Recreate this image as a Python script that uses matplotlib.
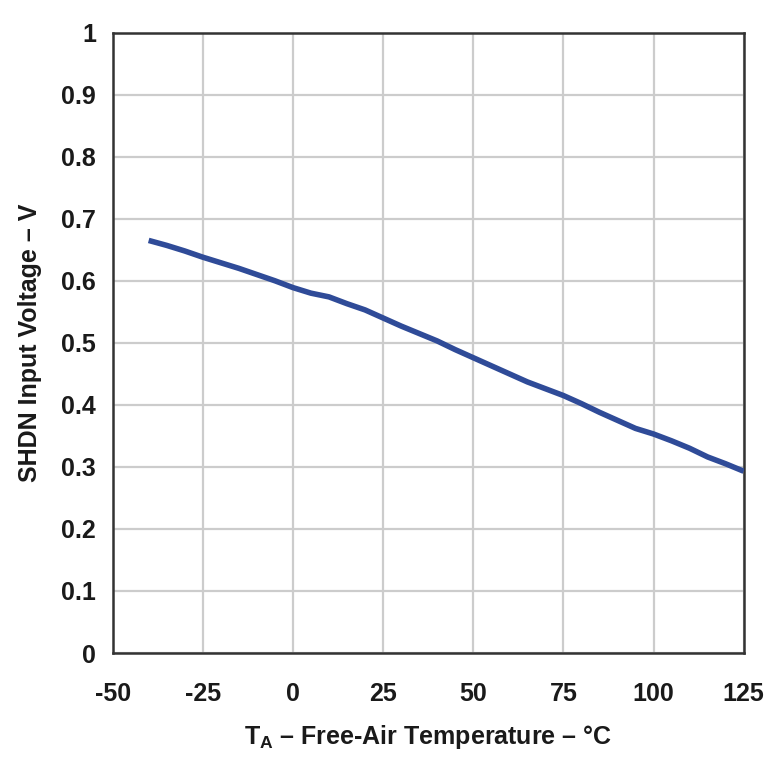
import numpy as np
import matplotlib.pyplot as plt

# SHDN input voltage vs free-air temperature
temp_c = [-40, -35, -30, -25, -20, -15, -10, -5, 0, 5, 10, 15, 20, 25, 30,
          35, 40, 45, 50, 55, 60, 65, 70, 75, 80, 85, 90, 95, 100, 105,
          110, 115, 120, 125]
shdn_v = [0.665, 0.657, 0.648, 0.638, 0.629, 0.620, 0.610, 0.600, 0.589,
          0.580, 0.574, 0.563, 0.553, 0.540, 0.527, 0.515, 0.503, 0.489,
          0.476, 0.463, 0.450, 0.437, 0.426, 0.415, 0.402, 0.388, 0.375,
          0.362, 0.353, 0.342, 0.330, 0.316, 0.305, 0.293]

xticks = [-50, -25, 0, 25, 50, 75, 100, 125]
yticks = [0, 0.1, 0.2, 0.3, 0.4, 0.5, 0.6, 0.7, 0.8, 0.9, 1]
ytick_labels = ['0', '0.1', '0.2', '0.3', '0.4', '0.5', '0.6', '0.7', '0.8', '0.9', '1']

plt.rcParams['font.family'] = ['Liberation Sans', 'DejaVu Sans']
plt.rcParams['font.weight'] = 'bold'
plt.rcParams['axes.unicode_minus'] = False
plt.rcParams['mathtext.fontset'] = 'custom'
plt.rcParams['mathtext.rm'] = 'Liberation Sans:bold'

fig = plt.figure(figsize=(7.82, 7.76), dpi=100)
ax = fig.add_axes([0.144, 0.1585, 0.807, 0.7995])

ax.plot(temp_c, shdn_v, color='#2f4b98', lw=4.0, solid_capstyle='butt', zorder=3)

ax.set_xlim(-50, 125)
ax.set_ylim(0, 1)
ax.set_xticks(xticks)
ax.set_yticks(yticks)
ax.set_yticklabels(ytick_labels)
ax.tick_params(axis='both', length=0, labelsize=18, colors='#1a1a1a')
ax.tick_params(axis='x', pad=21)
ax.tick_params(axis='y', pad=12)
for lbl in ax.get_xticklabels() + ax.get_yticklabels():
    lbl.set_fontweight('bold')

ax.grid(True, color='#cccccc', lw=1.6)
ax.set_axisbelow(True)
for sp in ax.spines.values():
    sp.set_color('#333333')
    sp.set_linewidth(1.8)

ax.set_xlabel(r'T$_\mathrm{A}$ – Free-Air Temperature – °C', fontsize=18,
              fontweight='bold', labelpad=12, color='#1a1a1a')
ax.set_ylabel('SHDN Input Voltage – V', fontsize=18, fontweight='bold',
              labelpad=14, color='#1a1a1a')

fig.savefig('out.png', dpi=100)
